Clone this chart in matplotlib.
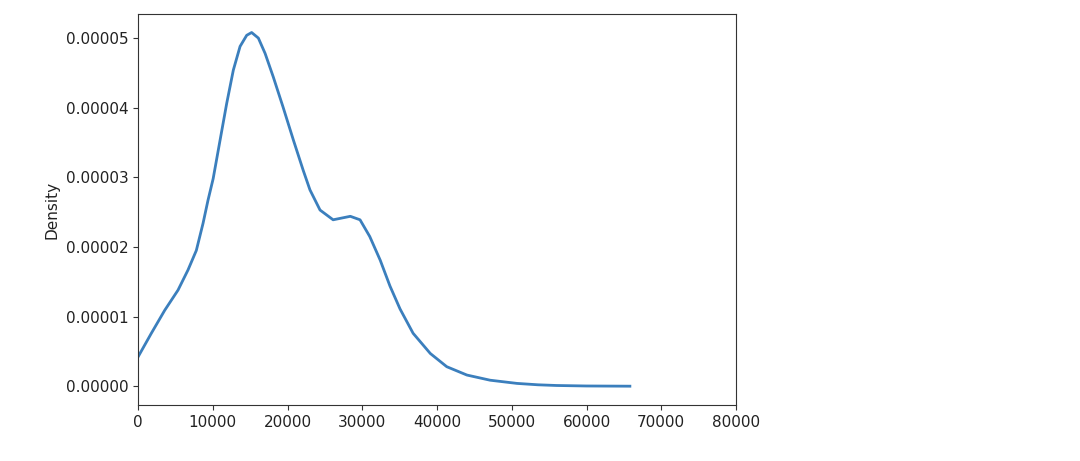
import matplotlib.pyplot as plt

# density curve (x in salary units, y density)
x_vals = [0, 1780, 3570, 5350, 6690, 7800, 8700, 9360, 10050, 10970,
          11860, 12750, 13650, 14540, 15200, 16100, 17000, 18100, 19400,
          20800, 22100, 23000, 24350, 26100, 28400, 29700, 31000, 32400,
          33700, 35050, 36800, 39100, 41300, 44000, 47100, 50700, 53500,
          56000, 60000, 65800]
density = [0.42e-5, 0.76e-5, 1.09e-5, 1.38e-5, 1.67e-5, 1.95e-5, 2.34e-5,
           2.67e-5, 2.98e-5, 3.53e-5, 4.06e-5, 4.54e-5, 4.88e-5, 5.04e-5,
           5.08e-5, 5.00e-5, 4.78e-5, 4.44e-5, 4.01e-5, 3.53e-5, 3.10e-5,
           2.82e-5, 2.53e-5, 2.39e-5, 2.44e-5, 2.39e-5, 2.15e-5, 1.81e-5,
           1.44e-5, 1.11e-5, 0.76e-5, 0.47e-5, 0.28e-5, 0.16e-5, 0.086e-5,
           0.04e-5, 0.02e-5, 0.01e-5, 0.003e-5, 0.0]

fig = plt.figure(figsize=(10.8, 4.61), dpi=100)
ax = fig.add_axes([0.1278, 0.1215, 0.5537, 0.848])
ax.plot(x_vals, density, color="#3b7fbd", linewidth=2)

ax.set_xlim(0, 80000)
ax.set_ylim(-0.27e-5, 5.345e-5)
ax.set_yticks([0, 1e-5, 2e-5, 3e-5, 4e-5, 5e-5])
ax.set_yticklabels(["0.00000", "0.00001", "0.00002", "0.00003", "0.00004", "0.00005"])
ax.set_xticks(range(0, 80001, 10000))
ax.tick_params(labelsize=11, colors="#333333", labelcolor="#222222")
ax.set_ylabel("Density", fontsize=11, color="#222222")
for s in ax.spines.values():
    s.set_color("#333333")

fig.savefig("out.png", dpi=100)
